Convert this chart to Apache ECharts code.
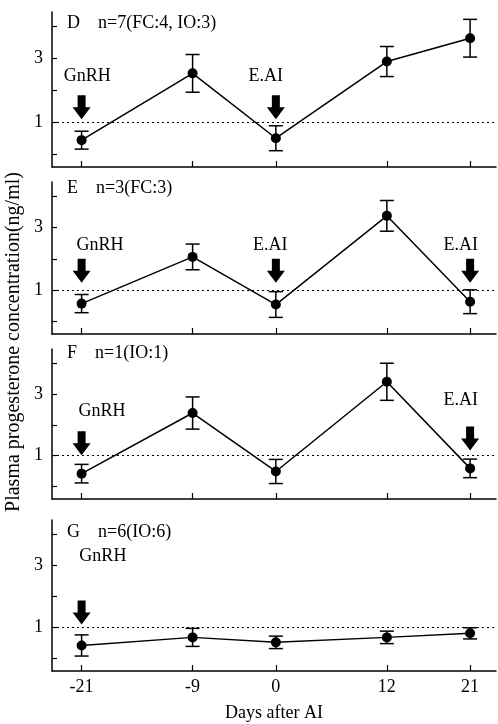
<!DOCTYPE html>
<html>
<head>
<meta charset="utf-8">
<script src="https://cdn.jsdelivr.net/npm/echarts@6/dist/echarts.min.js"></script>
<style>html,body{margin:0;padding:0;background:#fff;}#c{width:498px;height:724px;}</style>
</head>
<body>
<div id="c"></div>
<script>
// ---- data ----
const days = [-21, -9, 0, 12, 21];
const meanD = [0.44, 2.53, 0.50, 2.90, 3.63];
const errD  = [0.28, 0.59, 0.39, 0.47, 0.59];
const meanE = [0.57, 2.06, 0.54, 3.37, 0.63];
const errE  = [0.29, 0.41, 0.41, 0.49, 0.38];
const meanF = [0.42, 2.38, 0.49, 3.39, 0.59];
const errF  = [0.30, 0.52, 0.39, 0.60, 0.30];
const meanG = [0.42, 0.68, 0.52, 0.68, 0.81];
const errG  = [0.34, 0.29, 0.20, 0.20, 0.18];
const panelTitles = ['D    n=7(FC:4, IO:3)', 'E    n=3(FC:3)', 'F    n=1(IO:1)', 'G    n=6(IO:6)'];
const yTickValues = [0, 1, 2, 3, 4];
const yLabelValues = [1, 3];
const threshold = 1;
const xTitle = 'Days after AI';
const yTitle = 'Plasma progesterone concentration(ng/ml)';
// treatment arrows: [day, value of arrow centre]
const arrowsD = [[-21, 1.47], [0, 1.47]];
const arrowsE = [[-21, 1.62], [0, 1.62], [21, 1.62]];
const arrowsF = [[-21, 1.40], [21, 1.56]];
const arrowsG = [[-21, 1.48]];
// treatment labels: [text, day, value]
const labelsD = [['GnRH', -20.4, 2.44], ['E.AI', -1.1, 2.44]];
const labelsE = [['GnRH', -19.0, 2.44], ['E.AI', -0.6, 2.44], ['E.AI', 20.0, 2.44]];
const labelsF = [['GnRH', -18.8, 2.44], ['E.AI', 20.0, 2.8]];
const labelsG = [['GnRH', -18.7, 3.3]];

// ---- chart ----
const FONT = 'Liberation Serif';
const FS = 18;
const panels = [
  {mean: meanD, err: errD, arrows: arrowsD, labels: labelsD, top: 12, height: 155, titleTop: 14},
  {mean: meanE, err: errE, arrows: arrowsE, labels: labelsE, top: 182, height: 152, titleTop: 179},
  {mean: meanF, err: errF, arrows: arrowsF, labels: labelsF, top: 349, height: 150, titleTop: 344},
  {mean: meanG, err: errG, arrows: arrowsG, labels: labelsG, top: 520, height: 151, titleTop: 523}
];
const arrowPath = 'path://M5,0L13,0L13,12L18,12L9,24L0,12L5,12Z';

const grid = [], xAxis = [], yAxis = [], series = [], title = [];
panels.forEach((p, i) => {
  const last = i === panels.length - 1;
  grid.push({left: 52, right: 2, top: p.top, height: p.height});
  title.push({text: panelTitles[i], left: 67, top: p.titleTop, padding: 0,
    textStyle: {fontFamily: FONT, fontSize: FS, fontWeight: 'normal', color: '#000'}});
  xAxis.push({
    gridIndex: i, type: 'value', min: -24.2, max: 23.8,
    axisLine: {show: true, onZero: false, lineStyle: {color: '#000', width: 1.5}},
    axisTick: {show: true, inside: true, length: 6, customValues: days, lineStyle: {color: '#000', width: 1.2}},
    axisLabel: {show: last, customValues: days, color: '#000', fontFamily: FONT, fontSize: FS, margin: 7},
    splitLine: {show: false},
    name: last ? xTitle : '', nameLocation: 'middle', nameGap: 33,
    nameTextStyle: {fontFamily: FONT, fontSize: FS, color: '#000'}
  });
  yAxis.push({
    gridIndex: i, type: 'value', min: -0.4, max: 4.45,
    axisLine: {show: true, onZero: false, lineStyle: {color: '#000', width: 1.5}},
    axisTick: {show: true, inside: true, length: 5, customValues: yTickValues, lineStyle: {color: '#000', width: 1.2}},
    axisLabel: {show: true, customValues: yLabelValues, color: '#000', fontFamily: FONT, fontSize: FS, margin: 9},
    splitLine: {show: false}
  });
  const pts = days.map((d, k) => [d, p.mean[k]]);
  const mp = p.arrows.map(a => ({
    coord: a, symbol: arrowPath, symbolSize: [18, 24],
    itemStyle: {color: '#000'}, label: {show: false}
  })).concat(p.labels.map(l => ({
    coord: [l[1], l[2]], symbol: 'circle', symbolSize: 1,
    itemStyle: {color: 'rgba(0,0,0,0)'},
    label: {show: true, position: 'inside', formatter: l[0], color: '#000', fontFamily: FONT, fontSize: FS}
  })));
  series.push({
    type: 'line', xAxisIndex: i, yAxisIndex: i, data: pts,
    symbol: 'circle', symbolSize: 10,
    itemStyle: {color: '#000'}, lineStyle: {color: '#000', width: 1.5},
    markLine: {silent: true, symbol: 'none', label: {show: false},
      lineStyle: {color: '#000', type: [2, 3], width: 1}, data: [{yAxis: threshold}]},
    markPoint: {silent: true, data: mp},
    z: 3
  });
  series.push({
    type: 'custom', xAxisIndex: i, yAxisIndex: i,
    data: days.map((d, k) => [d, p.mean[k], p.err[k]]),
    renderItem: function (params, api) {
      const x = api.value(0), m = api.value(1), e = api.value(2);
      const t = api.coord([x, m + e]), b = api.coord([x, m - e]);
      const w = 7;
      const st = {stroke: '#000', lineWidth: 1.5};
      return {type: 'group', children: [
        {type: 'line', shape: {x1: t[0], y1: t[1], x2: b[0], y2: b[1]}, style: st},
        {type: 'line', shape: {x1: t[0] - w, y1: t[1], x2: t[0] + w, y2: t[1]}, style: st},
        {type: 'line', shape: {x1: b[0] - w, y1: b[1], x2: b[0] + w, y2: b[1]}, style: st}
      ]};
    },
    z: 2
  });
});

const chart = echarts.init(document.getElementById('c'), null, {renderer: 'canvas'});
chart.setOption({
  animation: false,
  backgroundColor: '#fff',
  title, grid, xAxis, yAxis, series,
  graphic: [{
    type: 'text', x: 14, y: 342, rotation: Math.PI / 2,
    style: {text: yTitle, font: '20px "Liberation Serif"', fill: '#000', textAlign: 'center', textVerticalAlign: 'middle'}
  }]
});
</script>
</body>
</html>
